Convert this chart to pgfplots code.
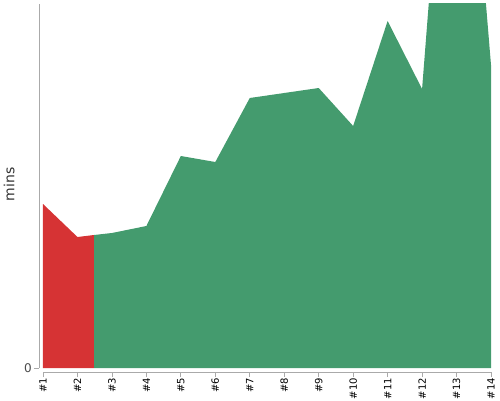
\documentclass[border=0pt]{standalone}
\usepackage{fontspec}
\setmainfont{DejaVu Sans}
\usepackage{pgfplots}
\pgfplotsset{compat=1.18}
\definecolor{redA}{RGB}{214,51,52}
\definecolor{greenA}{RGB}{68,155,110}
\definecolor{axgray}{RGB}{170,170,170}
\begin{document}
\begin{tikzpicture}[x=1pt,y=1pt]
\useasboundingbox (0,0) rectangle (500,400);
\begin{axis}[
  at={(39pt,28pt)}, anchor=south west,
  scale only axis, width=452pt, height=368pt,
  xmin=0.884, xmax=14, ymin=-4, ymax=364,
  axis line style={draw=none},
  xtick={1,...,14},
  xticklabels={\#1,\#2,\#3,\#4,\#5,\#6,\#7,\#8,\#9,\#10,\#11,\#12,\#13,\#14},
  ytick={0}, yticklabels={0},
  xtick pos=bottom, ytick pos=left,
  tick align=outside, major tick length=5pt,
  tick style={axgray, line width=0.8pt},
  xticklabel style={rotate=90, anchor=east, inner sep=1pt, font=\fontsize{10}{10}\selectfont, text=black},
  yticklabel style={font=\fontsize{12}{12}\selectfont, text=black!70, inner sep=2pt},
  ylabel={mins},
  ylabel style={font=\fontsize{14}{14}\selectfont, text=black!80, at={(axis description cs:0,0.51)}, anchor=south, yshift=21pt},
  clip=true,
]
\addplot[fill=redA, draw=none] coordinates {(1,0) (1,164) (2,131) (2.48,133) (2.48,0)} -- cycle;
\addplot[fill=greenA, draw=none] coordinates {(2.48,0) (2.48,133) (3,135) (4,142) (5,212) (6,206) (7,270) (8,275) (9,280) (10,242) (11,347) (12,279) (13,720) (14,303) (14,0)} -- cycle;
\end{axis}
\draw[axgray, line width=0.8pt] (43,28) -- (491,28);
\draw[axgray, line width=0.8pt] (39,32) -- (39,396);
\end{tikzpicture}
\end{document}
